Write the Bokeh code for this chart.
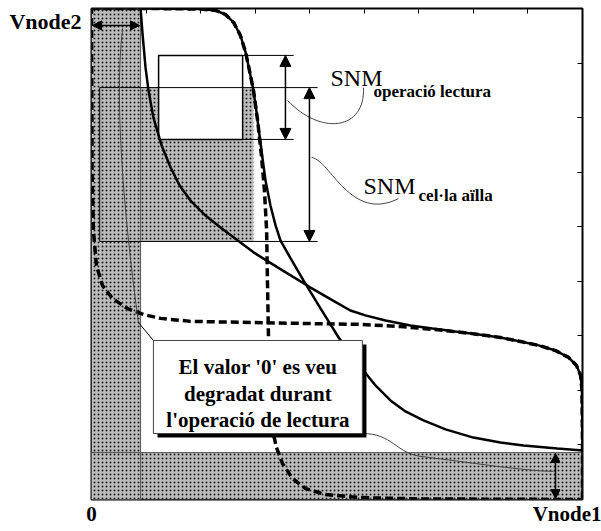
from bokeh.plotting import figure
from bokeh.models import LinearAxis, Label, Arrow, NormalHead, FixedTicker
from bokeh.embed import file_html
from bokeh.resources import INLINE

# ---------------- data (volts) ----------------
VDD = 1.8
TICKS = [0.2, 0.4, 0.6, 0.8, 1.0, 1.2, 1.4, 1.6]

# transfer curve of the cell during the read operation (solid)
vin_read = [0.000, 0.216, 0.400, 0.455, 0.491, 0.521, 0.546, 0.565, 0.579, 0.594, 0.605,
            0.616, 0.627, 0.638, 0.656, 0.675, 0.693, 0.730, 0.777, 0.840, 0.906, 0.950,
            0.997, 1.041, 1.096, 1.151, 1.217, 1.298, 1.400, 1.499, 1.584, 1.708, 1.800]
vout_read = [1.800, 1.800, 1.798, 1.793, 1.778, 1.749, 1.701, 1.639, 1.573, 1.499, 1.419,
             1.334, 1.250, 1.169, 1.078, 1.004, 0.949, 0.884, 0.803, 0.700, 0.594, 0.535,
             0.473, 0.418, 0.363, 0.323, 0.290, 0.257, 0.227, 0.209, 0.198, 0.187, 0.180]

# transfer curve of the isolated cell (dashed)
vin_iso = [0.000, 0.216, 0.400, 0.455, 0.491, 0.521, 0.546, 0.565, 0.579, 0.594, 0.609,
           0.623, 0.634, 0.642, 0.645, 0.649, 0.653, 0.664, 0.678, 0.700, 0.737, 0.785,
           0.858, 0.986, 1.206, 1.800]
vout_iso = [1.800, 1.800, 1.798, 1.793, 1.778, 1.749, 1.701, 1.639, 1.573, 1.499, 1.389,
            1.261, 1.133, 0.986, 0.803, 0.583, 0.363, 0.253, 0.191, 0.132, 0.077, 0.040,
            0.018, 0.007, 0.002, 0.000]

# degraded '0' levels during read
V0_NODE1 = 0.180   # left strip
V0_NODE2 = 0.172   # bottom strip

# noise-margin squares
SNM_READ = 0.308
SNM_CELL = 0.564
READ_SQ_LEFT, READ_SQ_BOTTOM = 0.246, 1.320
CELL_SQ_RIGHT, CELL_SQ_BOTTOM = 0.594, 0.946

# axis label positions (tick values that carry the names)
X_NAME_POS = 1.745
Y_NAME_POS = 1.752

# ---------------- figure ----------------
p = figure(width=601, height=531, x_range=(0, VDD), y_range=(0, VDD),
           output_backend="svg", toolbar_location=None,
           x_axis_location=None, y_axis_location=None,
           min_border_left=91, min_border_right=19, min_border_top=8, min_border_bottom=32)
p.grid.grid_line_color = None
p.outline_line_color = "black"
p.outline_line_width = 2
p.background_fill_color = "white"
p.border_fill_color = "white"

for loc in ("above", "right"):
    ax = LinearAxis(ticker=FixedTicker(ticks=TICKS), major_tick_in=5, major_tick_out=0,
                    major_tick_line_color="black", major_tick_line_width=1,
                    minor_tick_line_color=None, axis_line_color=None,
                    major_label_overrides={t: "" for t in TICKS}, major_label_standoff=0,
                    major_label_text_font_size="1px")
    p.add_layout(ax, loc)

SERIF = "Liberation Serif"
xname = LinearAxis(ticker=FixedTicker(ticks=[0.0, X_NAME_POS]),
                   major_label_overrides={0.0: "0", X_NAME_POS: "Vnode1"},
                   major_tick_in=0, major_tick_out=0,
                   major_tick_line_color=None, minor_tick_line_color=None, axis_line_color=None,
                   major_label_standoff=2, major_label_text_font=SERIF,
                   major_label_text_font_style="bold", major_label_text_font_size="21px",
                   major_label_text_color="black")
p.add_layout(xname, "below")
yname = LinearAxis(ticker=FixedTicker(ticks=[Y_NAME_POS]),
                   major_label_overrides={Y_NAME_POS: "Vnode2"},
                   major_tick_in=0, major_tick_out=0,
                   major_tick_line_color=None, minor_tick_line_color=None, axis_line_color=None,
                   major_label_standoff=10, major_label_text_font=SERIF,
                   major_label_text_font_style="bold", major_label_text_font_size="22px",
                   major_label_text_color="black")
p.add_layout(yname, "left")

HATCH = dict(fill_color="#bdbdbd", line_color=None, hatch_pattern="dot",
             hatch_color="#1c1c1c", hatch_scale=4, hatch_weight=1.8)

cell_left = CELL_SQ_RIGHT - SNM_CELL
cell_top = CELL_SQ_BOTTOM + SNM_CELL
read_right = READ_SQ_LEFT + SNM_READ
read_top = READ_SQ_BOTTOM + SNM_READ

# hatched regions
p.quad(left=[0, 0, cell_left], right=[V0_NODE1, VDD, CELL_SQ_RIGHT],
       bottom=[0, 0, CELL_SQ_BOTTOM], top=[VDD, V0_NODE2, cell_top], **HATCH)
# read SNM square
p.quad(left=READ_SQ_LEFT, right=read_right, bottom=READ_SQ_BOTTOM, top=read_top,
       fill_color="white", line_color="black", line_width=1.5)

# guide lines
p.segment(x0=[V0_NODE1, 0], y0=[0, V0_NODE2], x1=[V0_NODE1, VDD], y1=[VDD, V0_NODE2],
          line_color="#555555", line_width=1)
p.segment(x0=[cell_left, cell_left, read_right, read_right, cell_left],
          y0=[cell_top, CELL_SQ_BOTTOM, read_top, READ_SQ_BOTTOM, CELL_SQ_BOTTOM],
          x1=[0.829, 0.829, 0.741, 0.741, cell_left],
          y1=[cell_top, CELL_SQ_BOTTOM, read_top, READ_SQ_BOTTOM, cell_top],
          line_color="black", line_width=1)

# butterfly curves
p.line(vin_read, vout_read, line_color="black", line_width=2.5)
p.line(vout_read, vin_read, line_color="black", line_width=2.5)
p.line(vin_iso, vout_iso, line_color="black", line_width=3.5, line_dash="8 4")
p.line(vout_iso, vin_iso, line_color="black", line_width=3.5, line_dash="8 4")

# thin leader curves
p.bezier(x0=[0.997, 0.807, 0.172, 0.993, 1.206],
         y0=[1.510, 1.254, 0.649, 0.242, 0.158],
         x1=[0.719, 1.125, 0.114, 1.206, 1.694],
         y1=[1.463, 1.103, 1.727, 0.158, 0.103],
         cx0=[1.004, 0.876, 0.136, 1.103, 1.389],
         cy0=[1.353, 1.243, 0.913, 0.242, 0.136],
         cx1=[0.840, 0.950, 0.077, 1.114, 1.573],
         cy1=[1.334, 1.015, 1.426, 0.172, 0.106],
         line_color="#444444", line_width=1)

# callout box with shadow
p.quad(left=0.242, right=1.008, bottom=0.227, top=0.568, fill_color="black", line_color=None)
p.quad(left=0.227, right=0.993, bottom=0.242, top=0.583, fill_color="white",
       line_color="#444444", line_width=1)
p.segment(x0=[0.172], y0=[0.649], x1=[0.227], y1=[0.583], line_color="black", line_width=1)

for txt, yy in [("El valor '0' es veu", 0.484), ("degradat durant", 0.385),
                ("l'operació de lectura", 0.290)]:
    p.add_layout(Label(x=0.610, y=yy, text=txt, text_align="center", text_baseline="alphabetic",
                       text_font=SERIF, text_font_style="bold", text_font_size="21px",
                       text_color="black"))

# arrows
def darrow(x0, y0, x1, y1, size=11):
    p.add_layout(Arrow(start=NormalHead(size=size, fill_color="black", line_color="black"),
                       end=NormalHead(size=size, fill_color="black", line_color="black"),
                       x_start=x0, y_start=y0, x_end=x1, y_end=y1,
                       line_color="black", line_width=1.5))

darrow(0.711, read_top, 0.711, READ_SQ_BOTTOM)
darrow(0.799, cell_top, 0.799, CELL_SQ_BOTTOM)
darrow(0.004, 1.738, V0_NODE1 - 0.004, 1.738, size=9)
darrow(1.701, 0.003, 1.701, V0_NODE2 - 0.003, size=9)

# SNM labels
p.add_layout(Label(x=0.876, y=1.547, text="SNM", text_font=SERIF, text_font_size="24px",
                   text_baseline="alphabetic", text_color="black"))
p.add_layout(Label(x=1.034, y=1.496, text="operació lectura", text_font=SERIF,
                   text_font_style="bold", text_font_size="17px",
                   text_baseline="alphabetic", text_color="black"))
p.add_layout(Label(x=0.997, y=1.151, text="SNM", text_font=SERIF, text_font_size="24px",
                   text_baseline="alphabetic", text_color="black"))
p.add_layout(Label(x=1.199, y=1.114, text="cel·la aïlla", text_font=SERIF,
                   text_font_style="bold", text_font_size="17px",
                   text_baseline="alphabetic", text_color="black"))

open("out.html", "w").write(file_html(p, INLINE))
